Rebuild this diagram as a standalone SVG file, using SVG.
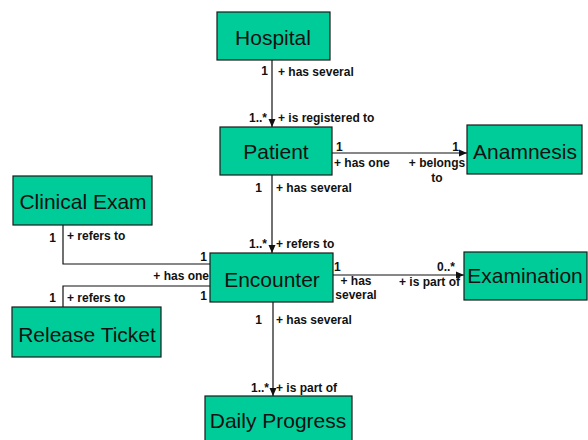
<svg xmlns="http://www.w3.org/2000/svg" width="588" height="440" viewBox="0 0 588 440">
<style>
.box{fill:#00CC99;stroke:#1a1a1a;stroke-width:1.2}
.nt{font-family:"Liberation Sans",Arial,sans-serif;font-size:21px;fill:#111;text-anchor:middle}
.lb{font-family:"Liberation Sans",Arial,sans-serif;font-size:12px;font-weight:bold;fill:#111}
.e{text-anchor:end}
.m{text-anchor:middle}
.ln{fill:none;stroke:#111;stroke-width:1.2}
</style>
<defs>
<marker id="arr" viewBox="0 0 8 8" refX="8" refY="4" markerWidth="8" markerHeight="8" markerUnits="userSpaceOnUse" orient="auto">
<path d="M0,0.5 L8,4 L0,7.5 z" fill="#111"/>
</marker>
</defs>
<rect width="588" height="440" fill="#fff"/>
<g id="connectors">
<line class="ln" x1="272" y1="60" x2="272" y2="127" marker-end="url(#arr)"/>
<line class="ln" x1="272" y1="175" x2="272" y2="253" marker-end="url(#arr)"/>
<line class="ln" x1="273" y1="302" x2="273" y2="396" marker-end="url(#arr)"/>
<line class="ln" x1="332" y1="153" x2="467" y2="153" marker-end="url(#arr)"/>
<line class="ln" x1="333" y1="275" x2="464" y2="275" marker-end="url(#arr)"/>
<polyline class="ln" points="63,225 63,264 210,264"/>
<polyline class="ln" points="63,307 63,286 210,286"/>
<text class="lb e" x="268" y="75">1</text>
<text class="lb" x="278" y="76">+ has several</text>
<text class="lb e" x="267" y="122">1..*</text>
<text class="lb" x="278" y="122">+ is registered to</text>
<text class="lb" x="336" y="151">1</text>
<text class="lb" x="334" y="167">+ has one</text>
<text class="lb e" x="459" y="151">1</text>
<text class="lb m" x="437" y="167">+ belongs</text>
<text class="lb m" x="437" y="182">to</text>
<text class="lb e" x="262" y="192">1</text>
<text class="lb" x="276" y="192">+ has several</text>
<text class="lb e" x="267" y="248">1..*</text>
<text class="lb" x="276" y="248">+ refers to</text>
<text class="lb e" x="56" y="242">1</text>
<text class="lb" x="67" y="240">+ refers to</text>
<text class="lb e" x="207" y="261">1</text>
<text class="lb e" x="209" y="280">+ has one</text>
<text class="lb e" x="207" y="300">1</text>
<text class="lb e" x="56" y="302">1</text>
<text class="lb" x="67" y="302">+ refers to</text>
<text class="lb" x="334" y="271">1</text>
<text class="lb m" x="356" y="285">+ has</text>
<text class="lb m" x="356" y="299">several</text>
<text class="lb e" x="455" y="271">0..*</text>
<text class="lb e" x="460" y="286">+ is part of</text>
<text class="lb e" x="262" y="324">1</text>
<text class="lb" x="276" y="324">+ has several</text>
<text class="lb e" x="269" y="392">1..*</text>
<text class="lb" x="276" y="392">+ is part of</text>
</g>
<g id="hospital"><rect class="box" x="217" y="12" width="113" height="48"/><text class="nt" x="273" y="45">Hospital</text></g>
<g id="patient"><rect class="box" x="220" y="127" width="112" height="48"/><text class="nt" x="276" y="159">Patient</text></g>
<g id="anamnesis"><rect class="box" x="467" y="125" width="115" height="49"/><text class="nt" x="525" y="159">Anamnesis</text></g>
<g id="clinical-exam"><rect class="box" x="13" y="176" width="139" height="49"/><text class="nt" x="83" y="209">Clinical Exam</text></g>
<g id="encounter"><rect class="box" x="210" y="253" width="123" height="49"/><text class="nt" x="272" y="287">Encounter</text></g>
<g id="examination"><rect class="box" x="464" y="252" width="123" height="48"/><text class="nt" x="525" y="283">Examination</text></g>
<g id="release-ticket"><rect class="box" x="12" y="307" width="149" height="50"/><text class="nt" x="87" y="342">Release Ticket</text></g>
<g id="daily-progress"><rect class="box" x="205" y="396" width="147" height="50"/><text class="nt" x="278" y="428">Daily Progress</text></g>
</svg>
